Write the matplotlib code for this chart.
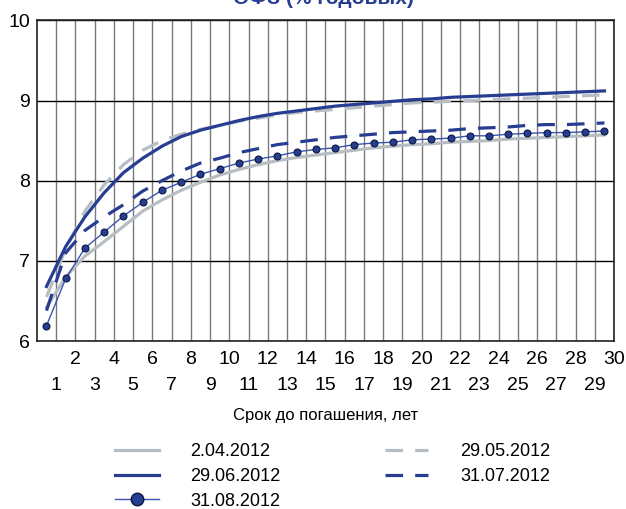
import matplotlib
matplotlib.use("Agg")
import matplotlib.pyplot as plt
from matplotlib.lines import Line2D
import numpy as np

plt.rcParams['font.family'] = ['Liberation Sans', 'DejaVu Sans']

# срок до погашения (середины интервалов), лет
years = np.arange(30) + 0.5

# доходности ОФЗ, % годовых
ofz_0204 = [6.42, 6.80, 7.06, 7.24, 7.43, 7.62, 7.76, 7.88, 7.98, 8.07,
            8.14, 8.20, 8.25, 8.29, 8.32, 8.35, 8.38, 8.41, 8.43, 8.45,
            8.46, 8.48, 8.49, 8.50, 8.52, 8.53, 8.54, 8.55, 8.56, 8.57]
ofz_2905 = [6.55, 7.15, 7.62, 7.95, 8.20, 8.38, 8.50, 8.58, 8.64, 8.69,
            8.74, 8.78, 8.82, 8.85, 8.87, 8.89, 8.91, 8.93, 8.95, 8.97,
            8.98, 8.99, 9.00, 9.01, 9.02, 9.03, 9.04, 9.05, 9.06, 9.07]
ofz_2906 = [6.68, 7.18, 7.55, 7.85, 8.10, 8.28, 8.43, 8.55, 8.63, 8.69,
            8.75, 8.80, 8.84, 8.87, 8.90, 8.93, 8.95, 8.97, 8.99, 9.01,
            9.02, 9.04, 9.05, 9.06, 9.07, 9.08, 9.09, 9.10, 9.11, 9.12]
ofz_3107 = [6.38, 7.10, 7.38, 7.55, 7.70, 7.87, 8.00, 8.12, 8.22, 8.28,
            8.35, 8.40, 8.45, 8.48, 8.51, 8.54, 8.56, 8.58, 8.60, 8.61,
            8.62, 8.63, 8.65, 8.66, 8.67, 8.69, 8.70, 8.70, 8.71, 8.72]
ofz_3108 = [6.19, 6.78, 7.16, 7.36, 7.56, 7.73, 7.88, 7.98, 8.08, 8.15,
            8.22, 8.27, 8.31, 8.36, 8.39, 8.41, 8.45, 8.47, 8.48, 8.51,
            8.52, 8.53, 8.56, 8.56, 8.58, 8.59, 8.60, 8.60, 8.61, 8.62]

labels = ['2.04.2012', '29.05.2012', '29.06.2012', '31.07.2012', '31.08.2012']
even_ticks = list(range(2, 31, 2))
odd_ticks = list(range(1, 30, 2))

grey = '#b7bec3'
navy = '#263d92'
dash = (0, (5.5, 3.8))

fig = plt.figure(figsize=(6.26, 5.09), dpi=100)
ax = fig.add_axes([0.0589, 0.330, 0.922, 0.630])

ax.plot(years, ofz_0204, color=grey, lw=2.3, zorder=3)
ax.plot(years, ofz_2905, color=grey, lw=2.3, ls=dash, zorder=3)
ax.plot(years, ofz_2906, color=navy, lw=2.3, zorder=4)
ax.plot(years, ofz_3107, color=navy, lw=2.3, ls=dash, zorder=4)
ax.plot(years, ofz_3108, color='#3a55b0', lw=1.0, marker='o', ms=5,
        mfc=navy, mec='#0c1840', mew=0.8, zorder=5)

ax.set_xlim(0, 30)
ax.set_ylim(6, 10)
ax.set_yticks([6, 7, 8, 9, 10])
ax.set_yticklabels(['6', '7', '8', '9', '10'])
ax.set_xticks(even_ticks)
ax.set_xticklabels([str(v) for v in even_ticks])
ax.set_xticks(odd_ticks, minor=True)
ax.set_xticklabels([str(v) for v in odd_ticks], minor=True)
ax.tick_params(axis='both', which='both', length=0, labelsize=14)
ax.tick_params(axis='x', which='major', pad=7)
ax.tick_params(axis='x', which='minor', pad=26)
ax.tick_params(axis='y', pad=5)

ax.grid(axis='x', which='both', color='#7a7a7a', lw=1.0, zorder=1)
ax.grid(axis='y', which='major', color='black', lw=1.0, zorder=1)
for s in ax.spines.values():
    s.set_color('#222222')
    s.set_linewidth(1.2)

ax.set_xlabel('Срок до погашения, лет', fontsize=12, labelpad=10)

fig.text(0.517, 0.992, 'ОФЗ (% годовых)', ha='center', va='baseline',
         fontsize=15, fontweight='bold', color=navy)

left_h = [
    Line2D([], [], color=grey, lw=2.3),
    Line2D([], [], color=navy, lw=2.3),
    Line2D([], [], color='#3a55b0', lw=1.0, marker='o', ms=9, mfc=navy, mec='#0c1840'),
]
right_h = [
    Line2D([], [], color=grey, lw=2.3, ls=dash),
    Line2D([], [], color=navy, lw=2.3, ls=dash),
]
leg_kw = dict(loc='upper left', bbox_transform=fig.transFigure, frameon=False,
              fontsize=13, handlelength=2.4, handletextpad=1.75,
              labelspacing=0.42, borderaxespad=0, borderpad=0)
leg1 = fig.legend(left_h, [labels[0], labels[2], labels[4]],
                  bbox_to_anchor=(0.184, 0.129), **leg_kw)
leg2 = fig.legend(right_h, [labels[1], labels[3]],
                  bbox_to_anchor=(0.615, 0.129), **leg_kw)

fig.savefig('out.png', dpi=100)
